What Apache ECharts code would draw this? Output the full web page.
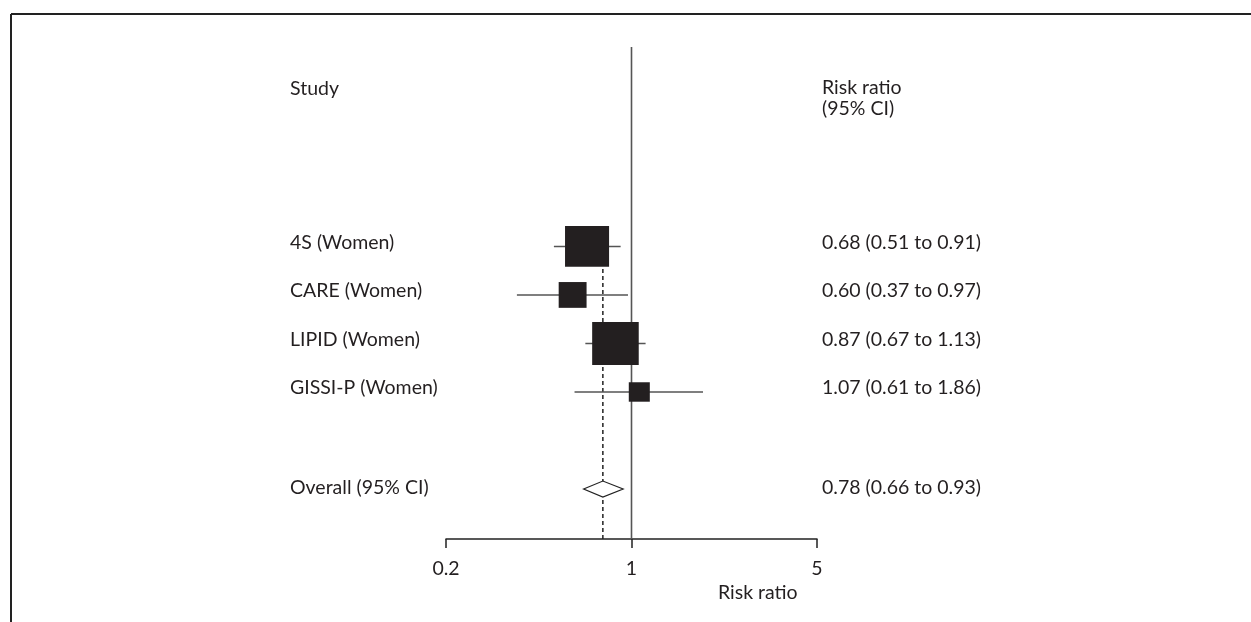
<!DOCTYPE html>
<html><head><meta charset="utf-8">
<script src="https://cdn.jsdelivr.net/npm/echarts@6/dist/echarts.min.js"></script>
<style>html,body{margin:0;padding:0;background:#fff}#c{width:1251px;height:622px}</style>
</head><body><div id="c"></div>
<script>
// ---- data ----
const studies = ["4S (Women)", "CARE (Women)", "LIPID (Women)", "GISSI-P (Women)"];
const riskRatio = [0.68, 0.60, 0.87, 1.07];
const ciLow = [0.51, 0.37, 0.67, 0.61];
const ciHigh = [0.91, 0.97, 1.13, 1.86];
const weights = [36.4, 14.6, 40.7, 8.3];
const overallLabel = "Overall (95% CI)";
const overallRR = [0.78];
const overallLow = [0.66];
const overallHigh = [0.93];
const xTicks = [0.2, 1, 5];
const xTickLabels = ["0.2", "1", "5"];
const headerStudy = "Study";
const headerResult = ["Risk ratio", "(95% CI)"];
const axisTitle = "Risk ratio";

// ---- layout / style ----
const FONT = 'Lato, "Open Sans", sans-serif';
const FS = 19.5;
const TXT = '#231f20';
const LABEL_X = 290, RESULT_X = 822;
const Y_MIN = -3.11, Y_MAX = 7.03;
const fmt = v => v.toFixed(2);
const resultText = (e, l, h) => fmt(e) + ' (' + fmt(l) + ' to ' + fmt(h) + ')';

const studyData = studies.map((s, i) => [i + 1, riskRatio[i], ciLow[i], ciHigh[i], weights[i], i]);
const overallRow = studies.length + 2;

const chart = echarts.init(document.getElementById('c'), null, {renderer: 'canvas'});
const textStyle = (x, y, t, align) => ({
  type: 'text', x: x, y: y,
  style: {text: t, fill: TXT, font: FS + 'px ' + FONT, textAlign: align || 'left', textVerticalAlign: 'middle'}
});

chart.setOption({
  animation: false,
  backgroundColor: '#fff',
  grid: {left: 446, right: 434, top: 47, bottom: 83},
  xAxis: {
    type: 'log', logBase: 5, min: xTicks[0], max: xTicks[xTicks.length - 1], interval: 1,
    axisLine: {show: true, onZero: false, lineStyle: {color: '#222', width: 1.5}},
    axisTick: {show: true, length: 9, inside: false, lineStyle: {color: '#222', width: 1.5}},
    axisLabel: {
      margin: 20, color: TXT, fontFamily: FONT, fontSize: FS,
      formatter: v => {
        let best = 0;
        xTicks.forEach((t, i) => { if (Math.abs(Math.log(t) - Math.log(v)) < Math.abs(Math.log(xTicks[best]) - Math.log(v))) best = i; });
        return xTickLabels[best];
      }
    },
    splitLine: {show: false}
  },
  yAxis: {type: 'value', inverse: true, min: Y_MIN, max: Y_MAX, show: false},
  series: [
    { // reference line at RR = 1
      type: 'custom', clip: false, z: 1,
      data: [[1]],
      renderItem: (p, api) => {
        const a = api.coord([api.value(0), Y_MIN]);
        const b = api.coord([api.value(0), Y_MAX]);
        return {type: 'line', shape: {x1: a[0], y1: a[1], x2: b[0], y2: b[1]}, style: {stroke: '#555', lineWidth: 1.6}};
      }
    },
    { // dashed line at overall estimate
      type: 'custom', clip: false, z: 2,
      data: overallRR.map(v => [v]),
      renderItem: (p, api) => {
        const a = api.coord([api.value(0), 0.6]);
        const b = api.coord([api.value(0), Y_MAX]);
        return {type: 'line', shape: {x1: a[0], y1: a[1], x2: b[0], y2: b[1]}, style: {stroke: '#222', lineWidth: 1.5, lineDash: [4, 3]}};
      }
    },
    { // studies
      type: 'custom', clip: false, z: 3,
      data: studyData,
      renderItem: (p, api) => {
        const row = api.value(0), e = api.value(1), l = api.value(2), h = api.value(3), w = api.value(4);
        const i = api.value(5);
        const pl = api.coord([l, row]), ph = api.coord([h, row]), pe = api.coord([e, row]);
        const bw = 7.3 * Math.sqrt(w), bh = 6.75 * Math.sqrt(w);
        return {type: 'group', children: [
          {type: 'line', shape: {x1: pl[0], y1: pl[1], x2: ph[0], y2: ph[1]}, style: {stroke: '#555', lineWidth: 1.5}},
          {type: 'rect', shape: {x: pe[0] - bw / 2, y: pe[1] - bh / 2, width: bw, height: bh}, style: {fill: '#231f20'}},
          textStyle(LABEL_X, pe[1] - 4, studies[i]),
          textStyle(RESULT_X, pe[1] - 4, resultText(e, l, h))
        ]};
      }
    },
    { // overall diamond
      type: 'custom', clip: false, z: 4,
      data: overallRR.map((v, i) => [overallRow, v, overallLow[i], overallHigh[i]]),
      renderItem: (p, api) => {
        const row = api.value(0), e = api.value(1), l = api.value(2), h = api.value(3);
        const pl = api.coord([l, row]), ph = api.coord([h, row]), pe = api.coord([e, row]);
        return {type: 'group', children: [
          {type: 'polygon', shape: {points: [[pl[0], pe[1]], [pe[0], pe[1] - 8], [ph[0], pe[1]], [pe[0], pe[1] + 8]]},
            style: {fill: '#fff', stroke: '#222', lineWidth: 1.2}},
          textStyle(LABEL_X, pe[1] - 1, overallLabel),
          textStyle(RESULT_X, pe[1] - 1, resultText(e, l, h))
        ]};
      }
    }
  ],
  graphic: [
    {type: 'line', shape: {x1: 11, y1: 14, x2: 1251, y2: 14}, style: {stroke: '#222', lineWidth: 2}},
    {type: 'line', shape: {x1: 11, y1: 14, x2: 11, y2: 622}, style: {stroke: '#222', lineWidth: 2}},
    textStyle(LABEL_X, 89, headerStudy),
    textStyle(RESULT_X, 88, headerResult[0]),
    textStyle(RESULT_X, 109, headerResult[1]),
    textStyle(718, 593, axisTitle)
  ]
});
</script>
</body></html>
